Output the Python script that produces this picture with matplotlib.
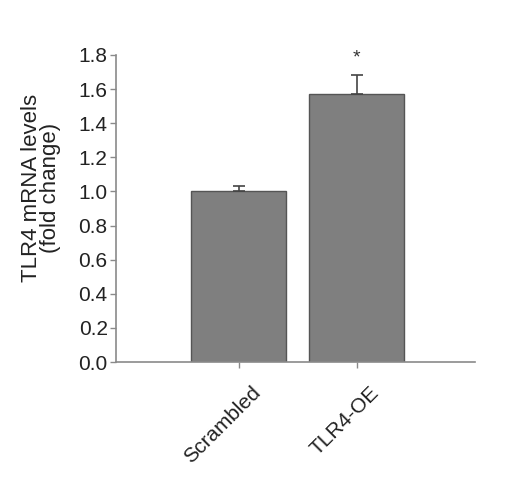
import matplotlib
matplotlib.use("Agg")
import matplotlib.pyplot as plt

plt.rcParams['font.family'] = ['Liberation Sans', 'DejaVu Sans']

# Data
groups = ['Scrambled', 'TLR4-OE']
means = [1.0, 1.57]
errors = [0.033, 0.11]
star_y = 1.78

fig = plt.figure(figsize=(5.10, 4.86), dpi=100)
ax = fig.add_axes([0.2275, 0.255, 0.7035, 0.632])

x = list(range(len(groups)))
ax.bar(x, means, width=0.805, color='#7f7f7f', edgecolor='#555555', linewidth=1.0, zorder=2)
ax.errorbar(x, means, yerr=[[0, 0], errors], fmt='none', ecolor='#444444',
            elinewidth=1.2, capsize=4, capthick=1.2, zorder=3)
ax.text(1, star_y, '*', ha='center', va='center', fontsize=14, color='#333333')

ax.set_xlim(-1.04, 2.0)
ax.set_ylim(0, 1.8)
ax.set_yticks([i * 0.2 for i in range(10)])
ax.set_yticklabels(['%.1f' % (i * 0.2) for i in range(10)], fontsize=15)
ax.set_xticks(x)
ax.set_xticklabels([])

# rotated group labels, placed a little right of the tick like the original
for xi, name in zip(x, groups):
    ax.annotate(name, xy=(xi, 0), xycoords=('data', 'axes fraction'),
                xytext=(9, -15), textcoords='offset points',
                rotation=45, ha='right', va='top', rotation_mode='anchor',
                fontsize=15, color='#222222')

for s in ['top', 'right']:
    ax.spines[s].set_visible(False)
for s in ['left', 'bottom']:
    ax.spines[s].set_color('#8a8a8a')
    ax.spines[s].set_linewidth(1.2)
ax.tick_params(axis='both', colors='#8a8a8a', length=4, width=1, labelcolor='#222222')
ax.tick_params(axis='y', pad=2)

fig.text(0.08, 0.613, 'TLR4 mRNA levels\n(fold change)', rotation=90, ha='center', va='center',
         fontsize=16, color='#222222', linespacing=0.85)

fig.savefig('out.png', dpi=100)
